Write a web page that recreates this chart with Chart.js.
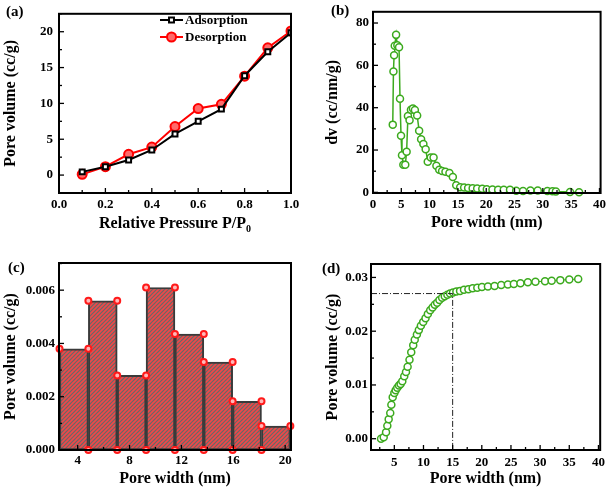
<!DOCTYPE html>
<html>
<head>
<meta charset="utf-8">
<script src="https://cdn.jsdelivr.net/npm/chart.js@4.4.0/dist/chart.umd.min.js"></script>
<style>
  body { margin: 0; background: #fff; }
  #wrap { position: relative; width: 610px; height: 488px; }
  .panel { position: absolute; width: 305px; height: 244px; }
</style>
</head>
<body>
<div id="wrap">
  <div class="panel" style="left:0;top:0"><canvas id="chartA" width="305" height="244"></canvas></div>
  <div class="panel" style="left:305px;top:0"><canvas id="chartB" width="305" height="244"></canvas></div>
  <div class="panel" style="left:0;top:244px"><canvas id="chartC" width="305" height="244"></canvas></div>
  <div class="panel" style="left:305px;top:244px"><canvas id="chartD" width="305" height="244"></canvas></div>
</div>
<script>
// (a) isotherm
const pressure = [0.1, 0.2, 0.3, 0.4, 0.5, 0.6, 0.7, 0.8, 0.9, 1.0];
const adsorption = [0.45, 1.17, 2.1, 3.5, 5.74, 7.5, 9.2, 13.86, 17.2, 19.87];
const desorption = [0.1, 1.17, 2.9, 3.9, 6.77, 9.28, 9.87, 13.8, 17.76, 20.1];
const ticksA_x = [0, 0.2, 0.4, 0.6, 0.8, 1.0];
const ticksA_y = [0, 5, 10, 15, 20];

// (b) pore size distribution
const psdWidth = [3.49, 3.61, 3.73, 3.84, 4.08, 4.3, 4.6, 4.77, 4.95, 5.12, 5.36, 5.7, 5.94, 6.17, 6.46, 6.7, 7.05, 7.4, 7.8, 8.15,
  8.5, 8.9, 9.3, 9.67, 10.2, 10.7, 11.2, 11.7, 12.2, 12.8, 13.5, 14.1, 14.7, 15.4, 16.1, 16.8, 17.6, 18.4, 19.3, 20.1,
  21.1, 22.1, 23.1, 24.2, 25.3, 26.5, 27.8, 29.1, 30.8, 31.7, 32.3, 34.8, 36.4];
const psdDv = [32.0, 57.1, 64.8, 69.3, 74.4, 69.5, 68.6, 44.2, 26.7, 17.5, 13.1, 13.0, 19.2, 36.1, 34.1, 39.0, 39.6, 38.9, 36.3, 29.1,
  25.1, 22.9, 20.4, 14.5, 16.5, 16.5, 12.6, 10.7, 10.1, 9.75, 9.1, 7.3, 3.35, 2.4, 2.3, 2.1, 2.0, 1.8, 1.7, 1.5,
  1.4, 1.2, 1.2, 1.2, 0.8, 0.6, 0.9, 0.9, 0.6, 0.5, 0.4, 0.15, 0.1];
const ticksB_x = [0, 5, 10, 15, 20, 25, 30, 35, 40];
const ticksB_y = [0, 20, 40, 60, 80];

// (c) histogram
const binEdges = [2.6, 4.825, 7.05, 9.275, 11.5, 13.725, 15.95, 18.175, 20.4];
const binVolume = [0.0038, 0.0056, 0.0028, 0.0061, 0.00435, 0.0033, 0.00183, 0.0009];
const ticksC_x = [4, 8, 12, 16, 20];
const ticksC_y = [0, 0.002, 0.004, 0.006];

// (d) cumulative pore volume
const cumWidth = [2.72, 3.18, 3.58, 3.8, 4.03, 4.3, 4.49, 4.72, 5.0, 5.23, 5.5, 5.8, 6.08, 6.37, 6.7, 7.0, 7.28, 7.6, 7.9, 8.24,
  8.5, 8.87, 9.2, 9.55, 9.95, 10.35, 10.75, 11.15, 11.55, 11.94, 12.34, 12.74, 13.2, 13.65, 14.1, 14.56, 15.07, 15.64, 16.27, 16.95,
  17.7, 18.43, 19.23, 20.03, 21.05, 22.19, 23.33, 24.47, 25.5, 26.63, 27.9, 29.2, 30.84, 31.98, 33.46, 35.0, 36.53];
const cumVolume = [0, 0.00025, 0.0012, 0.0024, 0.0036, 0.0048, 0.0063, 0.0077, 0.0085, 0.009, 0.0095, 0.0099, 0.0102, 0.0107, 0.0116, 0.0124, 0.0134, 0.0147, 0.0161, 0.0174,
  0.0184, 0.0194, 0.0202, 0.021, 0.0217, 0.0224, 0.0232, 0.0239, 0.0244, 0.0249, 0.0253, 0.0258, 0.0262, 0.0265, 0.0268, 0.027, 0.0272, 0.0274, 0.0275, 0.0277,
  0.0278, 0.028, 0.0281, 0.0282, 0.0283, 0.0284, 0.0286, 0.0287, 0.0288, 0.0289, 0.0291, 0.0292, 0.0293, 0.0294, 0.0295, 0.0296, 0.0297];
const guideWidth = 15;
const guideVolume = 0.027;
const ticksD_x = [5, 10, 15, 20, 25, 30, 35, 40];
const ticksD_y = [0, 0.01, 0.02, 0.03];

const FONT = '"Liberation Serif", "Times New Roman", serif';
const GREEN = '#3caa1e';

function pts(xs, ys) {
  return xs.map((x, i) => ({ x: x, y: ys[i] }));
}

// inward ticks, frame, panel letter, legend
const panelFrame = {
  id: 'panelFrame',
  afterDraw(chart, args, opts) {
    const ctx = chart.ctx;
    const a = chart.chartArea;
    const sx = chart.scales.x, sy = chart.scales.y;
    ctx.save();
    ctx.strokeStyle = '#000';
    ctx.lineWidth = 1.3;
    const marks = (scale, horiz) => {
      const vals = scale.ticks.map(t => t.value);
      const step = vals[1] - vals[0];
      const minors = vals.map(v => v - step / 2).concat([vals[vals.length - 1] + step / 2]);
      const draw = (v, len) => {
        if (v < scale.min || v > scale.max) return;
        const p = scale.getPixelForValue(v);
        ctx.beginPath();
        if (horiz) { ctx.moveTo(p, a.bottom); ctx.lineTo(p, a.bottom - len); }
        else { ctx.moveTo(a.left, p); ctx.lineTo(a.left + len, p); }
        ctx.stroke();
      };
      vals.forEach(v => draw(v, 5));
      minors.forEach(v => draw(v, 3));
    };
    marks(sx, true);
    marks(sy, false);
    ctx.lineWidth = 2;
    ctx.strokeRect(a.left, a.top, a.right - a.left, a.bottom - a.top);

    ctx.fillStyle = '#000';
    ctx.font = 'bold 15px ' + FONT;
    ctx.textBaseline = 'middle';
    ctx.textAlign = 'left';
    ctx.fillText(opts.label, opts.labelX, opts.labelY);

    if (opts.xTitle) {
      const t = opts.xTitle;
      ctx.font = 'bold 16px ' + FONT;
      const w1 = ctx.measureText(t[0]).width;
      ctx.font = 'bold 10px ' + FONT;
      const w2 = ctx.measureText(t[1]).width;
      let x0 = (a.left + a.right) / 2 - (w1 + w2) / 2;
      ctx.textBaseline = 'alphabetic';
      ctx.font = 'bold 16px ' + FONT;
      ctx.fillText(t[0], x0, opts.xTitleY);
      ctx.font = 'bold 10px ' + FONT;
      ctx.fillText(t[1], x0 + w1, opts.xTitleY + 4);
    }

    if (opts.legend) {
      ctx.font = 'bold 13px ' + FONT;
      ctx.textBaseline = 'middle';
      chart.data.datasets.forEach((ds, i) => {
        const y = opts.legendY + i * 17;
        const x = opts.legendX;
        ctx.strokeStyle = ds.borderColor;
        ctx.lineWidth = 2;
        ctx.beginPath(); ctx.moveTo(x, y); ctx.lineTo(x + 23, y); ctx.stroke();
        ctx.fillStyle = ds.pointBackgroundColor;
        ctx.strokeStyle = ds.pointBorderColor;
        Chart.helpers.drawPoint(ctx, { pointStyle: ds.pointStyle, rotation: 0, radius: ds.pointRadius, borderWidth: ds.pointBorderWidth }, x + 11.5, y);
        ctx.fillStyle = '#000';
        ctx.fillText(ds.label, x + 25, y + 1);
      });
    }
    ctx.restore();
  }
};

function axis(min, max, tickVals, fmt, fit, pad, title, titlePad) {
  return {
    type: 'linear', min: min, max: max, offset: false,
    grid: { display: false, drawTicks: false },
    border: { display: false },
    afterBuildTicks: s => { s.ticks = tickVals.map(v => ({ value: v })); },
    afterFit: fit,
    ticks: {
      padding: pad, color: '#000', autoSkip: false, maxRotation: 0,
      font: { family: FONT, size: 13, weight: 'bold' },
      callback: fmt
    },
    title: {
      display: !!title, text: title, color: '#000', padding: titlePad,
      font: { family: FONT, size: 16, weight: 'bold' }
    }
  };
}

// (a)
new Chart(document.getElementById('chartA'), {
  type: 'line',
  data: {
    datasets: [
      {
        label: 'Adsorption', data: pts(pressure, adsorption),
        borderColor: '#000', borderWidth: 2, pointStyle: 'rect', pointRadius: 3.5,
        pointBackgroundColor: '#fff', pointBorderColor: '#000', pointBorderWidth: 2
      },
      {
        label: 'Desorption', data: pts(pressure, desorption),
        borderColor: '#ff0000', borderWidth: 2, pointStyle: 'circle', pointRadius: 4.5,
        pointBackgroundColor: '#ff6a6a', pointBorderColor: '#ff0000', pointBorderWidth: 2
      }
    ]
  },
  options: {
    responsive: false, animation: false,
    layout: { padding: { top: 7, right: 14, left: 0, bottom: 0 } },
    plugins: {
      legend: { display: false }, tooltip: { enabled: false },
      panelFrame: { label: '(a)', labelX: 6, labelY: 12, xTitle: ['Relative Pressure P/P', '0'], xTitleY: 228,
        legend: true, legendX: 160, legendY: 20 }
    },
    scales: {
      x: axis(0, 1.0, ticksA_x, v => v.toFixed(1), s => { s.height = 51; }, 4, ''),
      y: axis(-2.5, 22.5, ticksA_y, v => v, s => { s.width = 59; }, 6, 'Pore volume (cc/g)', { top: 1 })
    }
  },
  plugins: [panelFrame]
});

// (b)
new Chart(document.getElementById('chartB'), {
  type: 'line',
  data: {
    datasets: [{
      label: 'dv', data: pts(psdWidth, psdDv),
      borderColor: GREEN, borderWidth: 1.5, pointRadius: 3.5,
      pointBackgroundColor: '#fff', pointBorderColor: GREEN, pointBorderWidth: 1.5, clip: false
    }]
  },
  options: {
    responsive: false, animation: false,
    layout: { padding: { top: 6, right: 7, left: 0, bottom: 0 } },
    plugins: {
      legend: { display: false }, tooltip: { enabled: false },
      panelFrame: { label: '(b)', labelX: 26, labelY: 11 }
    },
    scales: {
      x: axis(0, 40.2, ticksB_x, v => v, s => { s.height = 51; }, 4, 'Pore width (nm)', { bottom: 12 }),
      y: axis(-0.3, 85.3, ticksB_y, v => v, s => { s.width = 68; }, 4, 'dv (cc/nm/g)', { top: 18 })
    }
  },
  plugins: [panelFrame]
});

// (c)
const hatchCanvas = document.createElement('canvas');
hatchCanvas.width = 4; hatchCanvas.height = 4;
const hg = hatchCanvas.getContext('2d');
hg.fillStyle = '#686868'; hg.fillRect(0, 0, 4, 4);
hg.strokeStyle = '#f04848'; hg.lineWidth = 1.6;
hg.beginPath();
hg.moveTo(0, 4); hg.lineTo(4, 0);
hg.moveTo(-1, 1); hg.lineTo(1, -1);
hg.moveTo(3, 5); hg.lineTo(5, 3);
hg.stroke();
const hatch = hg.createPattern(hatchCanvas, 'repeat');

const binCenters = binVolume.map((v, i) => (binEdges[i] + binEdges[i + 1]) / 2);
const cornerPts = [];
binVolume.forEach((v, i) => {
  cornerPts.push({ x: binEdges[i], y: v });
  cornerPts.push({ x: binEdges[i + 1], y: v });
  if (i > 0) cornerPts.push({ x: binEdges[i], y: 0 });
});

new Chart(document.getElementById('chartC'), {
  type: 'bar',
  data: {
    datasets: [
      {
        type: 'line', label: 'corners', data: cornerPts, showLine: false, clip: false,
        pointRadius: 3, pointBackgroundColor: '#ffb8b8', pointBorderColor: '#ff1a1a', pointBorderWidth: 2, order: 0
      },
      {
        label: 'Pore volume', data: pts(binCenters, binVolume),
        backgroundColor: hatch, borderColor: '#3a3a3a', borderWidth: 2, borderSkipped: false,
        barPercentage: 1, categoryPercentage: 1, order: 1
      }
    ]
  },
  options: {
    responsive: false, animation: false,
    layout: { padding: { top: 19, right: 14, left: 0, bottom: 0 } },
    plugins: {
      legend: { display: false }, tooltip: { enabled: false },
      panelFrame: { label: '(c)', labelX: 8, labelY: 24 }
    },
    scales: {
      x: axis(2.56, 20.45, ticksC_x, v => v, s => { s.height = 38; }, 3, 'Pore width (nm)', { bottom: 0 }),
      y: axis(0, 0.00702, ticksC_y, v => v.toFixed(3), s => { s.width = 59; }, 4, 'Pore volume (cc/g)', { top: 1 })
    }
  },
  plugins: [panelFrame]
});

// (d)
const xMinD = 1.0, yMinD = -0.0021;
new Chart(document.getElementById('chartD'), {
  type: 'line',
  data: {
    datasets: [
      {
        label: 'guide', data: [{ x: xMinD, y: guideVolume }, { x: guideWidth, y: guideVolume }, { x: guideWidth, y: yMinD }],
        borderColor: '#222', borderWidth: 1, borderDash: [6, 2, 1, 2], pointRadius: 0
      },
      {
        label: 'cumulative', data: pts(cumWidth, cumVolume),
        borderColor: GREEN, borderWidth: 1, pointRadius: 3.5,
        pointBackgroundColor: '#fff', pointBorderColor: GREEN, pointBorderWidth: 1.5, clip: false
      }
    ]
  },
  options: {
    responsive: false, animation: false,
    layout: { padding: { top: 20, right: 9, left: 0, bottom: 0 } },
    plugins: {
      legend: { display: false }, tooltip: { enabled: false },
      panelFrame: { label: '(d)', labelX: 17, labelY: 25 }
    },
    scales: {
      x: axis(xMinD, 40.3, ticksD_x, v => v, s => { s.height = 38; }, 5, 'Pore width (nm)', { bottom: 0 }),
      y: axis(yMinD, 0.0325, ticksD_y, v => v.toFixed(2), s => { s.width = 66; }, 3, 'Pore volume (cc/g)', { top: 18 })
    }
  },
  plugins: [panelFrame]
});
</script>
</body>
</html>
